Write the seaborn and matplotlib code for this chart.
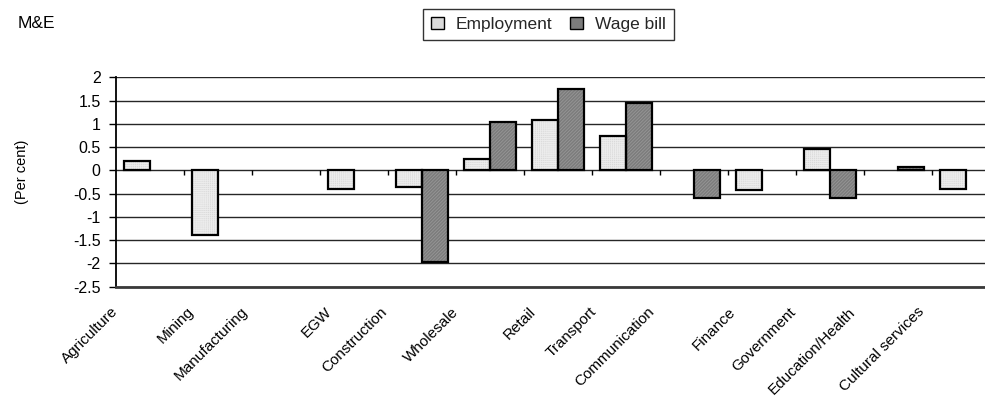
import numpy as np
import pandas as pd
import matplotlib
matplotlib.use("Agg")
import matplotlib.pyplot as plt
import matplotlib.transforms as mtransforms
from matplotlib.patches import Rectangle, Patch
import seaborn as sns

# Sector-level changes, per cent
sectors = ["Agriculture", "Mining", "Manufacturing", "EGW", "Construction",
           "Wholesale", "Retail", "Transport", "Communication", "Finance",
           "Government", "Education/Health", "Cultural services"]
employment = [0.20, -1.38, np.nan, -0.39, -0.36, 0.24, 1.09, 0.73, np.nan,
              -0.43, 0.46, np.nan, -0.39]
wage_bill = [np.nan, np.nan, np.nan, np.nan, -1.97, 1.05, 1.74, 1.44, -0.59,
             np.nan, -0.59, 0.08, np.nan]
series_names = ["Employment", "Wage bill"]
y_ticks = [2, 1.5, 1, 0.5, 0, -0.5, -1, -1.5, -2, -2.5]

df = pd.DataFrame({
    "sector": sectors * 2,
    "series": [series_names[0]] * len(sectors) + [series_names[1]] * len(sectors),
    "value": employment + wage_bill,
}).dropna()

sns.set_theme(style="white")
plt.rcParams["font.family"] = ["Liberation Sans", "DejaVu Sans"]
plt.rcParams["hatch.linewidth"] = 0.6

W, H, DPI = 985, 399, 100
fig = plt.figure(figsize=(W / DPI, H / DPI), dpi=DPI)
fig.patch.set_facecolor("white")
# plot area runs past the right edge of the canvas
ax = fig.add_axes([116 / W, 1 - 286.7 / H, 884 / W, (286.7 - 77.3) / H])

fills = {"Employment": "#dadada", "Wage bill": "#7c7c7c"}
hatch_style = {"Employment": ("++++++++", "#ececec"),
               "Wage bill": ("//////////", "#979797")}

sns.barplot(data=df, x="sector", y="value", hue="series", order=sectors,
            hue_order=series_names, palette=fills, saturation=1,
            width=52 / 68, gap=0, errorbar=None, legend=False, ax=ax)

for name, cont in zip(series_names, ax.containers):
    hatch, hcol = hatch_style[name]
    for bar in cont:
        bar.set_hatch(hatch)
        bar.set_edgecolor(hcol)
        bar.set_linewidth(0)
        ax.add_patch(Rectangle(bar.get_xy(), bar.get_width(), bar.get_height(),
                               fill=False, ec="black", lw=1.6,
                               zorder=bar.get_zorder() + 0.1))

ax.set_xlim(-0.5, len(sectors) - 0.5)
ax.set_ylim(min(y_ticks), max(y_ticks))
ax.set_axisbelow(True)

# value axis
ax.set_yticks(y_ticks)
ax.set_yticklabels([f"{v:g}" for v in y_ticks])
ax.tick_params(axis="y", direction="out", length=5, width=1, color="black",
               pad=6, labelsize=11.5, labelcolor="black", left=True)
ax.yaxis.grid(True, color="#262626", lw=1)
ax.xaxis.grid(False)
ax.set_ylabel("")
ax.set_xlabel("")

for side in ["top", "right"]:
    ax.spines[side].set_visible(False)
ax.spines["left"].set_color("black")
ax.spines["left"].set_linewidth(1.3)
ax.spines["bottom"].set_color("#3a3a3a")
ax.spines["bottom"].set_linewidth(2)

# category ticks sit on the zero line
ax.set_xticks(range(len(sectors)))
ax.set_xticklabels([])
ax.tick_params(axis="x", length=0)
bounds = np.arange(len(sectors) - 1) + 0.5
ax.vlines(bounds, -0.11, 0, colors="black", lw=1, zorder=3)

# rotated category labels below the plot area
fig.canvas.draw()
renderer = fig.canvas.get_renderer()
base = mtransforms.blended_transform_factory(ax.transData, ax.transAxes)
for i, name in enumerate(sectors):
    t = ax.text(i, 0, name, rotation=45, ha="right", va="top",
                fontsize=11, color="black", transform=base, clip_on=False)
    w = t.get_window_extent(renderer).width
    dx = -(6 + 0.37 * w)
    t.set_transform(base + mtransforms.ScaledTranslation(
        dx / DPI, -18 / DPI, fig.dpi_scale_trans))

fig.text(22 / W, 1 - 172 / H, "(Per cent)", rotation=90, ha="center",
         va="center", fontsize=10.5, color="black")
fig.text(18 / W, 1 - 24 / H, "M&E", ha="left", va="center", fontsize=12.5,
         color="black")

handles = [Patch(facecolor=fills[n], edgecolor="black", lw=1) for n in series_names]
leg = fig.legend(handles, series_names, loc="upper left",
                 bbox_to_anchor=(423 / W, 1 - 9 / H), ncol=2, frameon=True,
                 fancybox=False, edgecolor="black", fontsize=12.5,
                 handlelength=0.75, handleheight=0.65, handletextpad=0.7,
                 columnspacing=1.0, borderpad=0.45, borderaxespad=0)
leg.get_frame().set_linewidth(1)

fig.savefig("out.png", dpi=DPI, facecolor="white")
